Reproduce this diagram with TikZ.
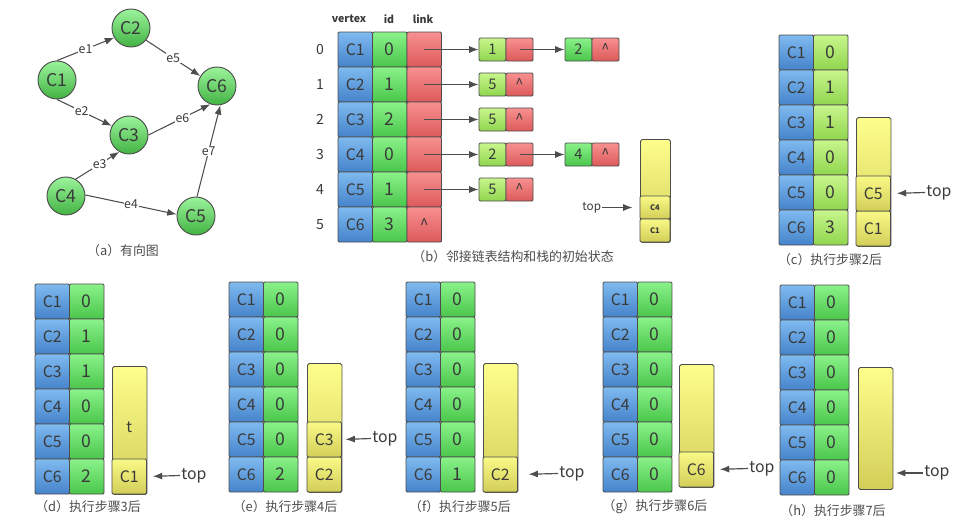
\documentclass[tikz,border=0pt]{standalone}
\usepackage{fontspec}
\setmainfont{Noto Sans CJK SC}
\usetikzlibrary{arrows.meta,positioning}
\definecolor{vblue1}{HTML}{7FBAEF}
\definecolor{vblue2}{HTML}{4583CB}
\definecolor{vgreen1}{HTML}{8AF28A}
\definecolor{vgreen2}{HTML}{4AC64A}
\definecolor{vlime1}{HTML}{C8F68C}
\definecolor{vlime2}{HTML}{90D54E}
\definecolor{vred1}{HTML}{F89090}
\definecolor{vred2}{HTML}{DD5A5A}
\definecolor{vyel1}{HTML}{FEFE8C}
\definecolor{vyel2}{HTML}{D2CE58}
\definecolor{edge}{HTML}{4D4D4D}
\definecolor{txt}{HTML}{3A3A3A}
\newcommand{\pxu}{0.03cm}
% one state table: name, left x, top y, style of id column, ids
\newcommand{\statetab}[5]{%
  \foreach \v [count=\i] in {#5}{%
    \node[vcell] (#1v\i) at ({#2+17.25},{#3+35*\i-17.5}) {C\i};
    \node[#4,font=\fontsize{15}{16}\selectfont] (#1d\i) at ({#2+51.75},{#3+35*\i-17.5}) {\v};
  }}

\begin{document}
\begin{tikzpicture}[x=\pxu,y=-\pxu,>={Latex[length=8pt,width=6pt]},
  every node/.style={text=txt},
  cell/.style={draw=edge,line width=0.8pt,rounded corners=1pt,inner sep=0pt,
    minimum width=34.5*\pxu,minimum height=35*\pxu,font=\fontsize{13.5}{14}\selectfont},
  vcell/.style={cell,top color=vblue1,bottom color=vblue2},
  gcell/.style={cell,top color=vgreen1,bottom color=vgreen2},
  lcell/.style={cell,top color=vlime1,bottom color=vlime2},
  rcell/.style={cell,top color=vred1,bottom color=vred2},
  ncell/.style={cell,minimum width=27*\pxu,minimum height=23*\pxu,font=\fontsize{12.5}{13}\selectfont},
  stk/.style={draw=edge,line width=0.8pt,rounded corners=1.5pt,anchor=north west,
    minimum width=34.5*\pxu,top color=vyel1,bottom color=vyel2},
  scell/.style={cell,top color=vyel1!90!vyel2,bottom color=vyel2},
  vtx/.style={circle,draw=edge,line width=0.8pt,minimum size=38*\pxu,inner sep=0pt,
    top color=vgreen1!85!white,bottom color=vgreen2!90!black,font=\fontsize{15}{16}\selectfont},
  elab/.style={fill=white,inner sep=0.6pt,font=\fontsize{10.5}{11}\selectfont},
  garc/.style={->,draw=edge,line width=0.9pt},
  lnk/.style={->,draw=edge,line width=0.9pt},
  tarr/.style={->,draw=edge,line width=1pt,shorten >=5pt},
  toplab/.style={anchor=west,inner sep=1pt,font=\fontsize{13.5}{14}\selectfont},
  hdr/.style={font=\bfseries\fontsize{9}{10}\selectfont},
  idx/.style={font=\fontsize{12}{13}\selectfont},
  capt/.style={font=\fontsize{11}{12}\selectfont,text=black!70}]
\useasboundingbox (0,0) rectangle (963,525);

% (a) the directed graph
\node[vtx] (C1) at (57,80) {C1};
\node[vtx] (C2) at (131,28) {C2};
\node[vtx] (C3) at (129,135) {C3};
\node[vtx] (C4) at (66,196) {C4};
\node[vtx] (C5) at (196,216) {C5};
\node[vtx] (C6) at (217,86) {C6};
\draw[garc] (C1.90) -- node[elab] {e1} (C2.210);
\draw[garc] (C1.270) -- node[elab,pos=0.45] {e2} (C3.152);
\draw[garc] (C4.60) -- node[elab,pos=0.55] {e3} (C3.240);
\draw[garc] (C4.3) -- node[elab] {e4} (C5.175);
\draw[garc] (C2.321) -- node[elab] {e5} (C6.149);
\draw[garc] (C3.0) -- node[elab,pos=0.55] {e6} (C6.250);
\draw[garc] (C5.87) -- node[elab] {e7} (C6.280);
\node[capt] (capa) at (123,251) {（a）有向图};

% (b) adjacency lists and the stack
\node[hdr] (hv) at (349,19) {vertex};
\node[hdr] (hi) at (389,19) {id};
\node[hdr] (hl) at (423,19) {link};
\foreach \c/\d/\l [count=\i from 0] in {C1/0/{},C2/1/{},C3/2/{},C4/0/{},C5/1/{},C6/3/\textasciicircum}{
  \node[idx] (bi\i) at (320,{49.5+35*\i}) {\i};
  \node[vcell] (bv\i) at (355.25,{49.5+35*\i}) {\c};
  \node[gcell,font=\fontsize{15}{16}\selectfont] (bd\i) at (389.75,{49.5+35*\i}) {\d};
  \node[rcell] (bl\i) at (424.25,{49.5+35*\i}) {\l};
}
\foreach \r/\v/\y in {0/1/49.5,1/5/84.5,2/5/119.5,3/2/154.5,4/5/189.5}{
  \node[ncell,top color=vlime1,bottom color=vlime2] (n\r a) at (492.5,\y) {\v};
  \draw[lnk] (bl\r.center) -- (n\r a.west);
}
\foreach \r in {1,2,4}{
  \node[ncell,top color=vred1,bottom color=vred2] (n\r b) at (519.5,{49.5+35*\r}) {\textasciicircum};
}
\foreach \r/\v/\y in {0/2/49.5,3/4/154.5}{
  \node[ncell,top color=vred1,bottom color=vred2] (n\r b) at (519.5,\y) {};
  \node[ncell,top color=vgreen1,bottom color=vgreen2] (n\r c) at (578.5,\y) {\v};
  \node[ncell,top color=vred1,bottom color=vred2] (n\r d) at (605.5,\y) {\textasciicircum};
  \draw[lnk] (n\r b.center) -- (n\r c.west);
}
\node[stk,minimum width=30*\pxu,minimum height=103*\pxu] (bstk) at (640,139) {};
\node[scell,minimum width=30*\pxu,minimum height=23*\pxu,font=\bfseries\fontsize{6.5}{7}\selectfont] (bs2) at (655,207.5) {C4};
\node[scell,minimum width=30*\pxu,minimum height=23*\pxu,font=\bfseries\fontsize{6.5}{7}\selectfont] (bs1) at (655,230.5) {C1};
\node[toplab,font=\fontsize{10}{11}\selectfont] (btop) at (581,207.5) {top};
\draw[lnk,shorten >=6pt] (btop.east) -- (bs2.west);
\node[capt] (capb) at (513,257) {（b）邻接链表结构和栈的初始状态};

% (c) after step 2
\statetab{c}{779}{35}{lcell}{0,1,1,0,0,3}
\node[stk,minimum height=129*\pxu] (cstk) at (856,117) {};
\node[scell] (cs1) at (873.25,228.5) {C1};
\node[scell] (cs2) at (873.25,193.5) {C5};
\node[toplab] (ctop) at (925,192.5) {top};
\draw[tarr] (ctop.west) -- (cs2.east);
\node[capt] (capc) at (830,260) {（c）执行步骤2后};

% (d) after step 3
\statetab{d}{35}{284}{gcell}{0,1,1,0,0,2}
\node[stk,minimum height=128*\pxu] (dstk) at (112,366) {};
\node[scell] (ds1) at (129.25,476.5) {C1};
\node[font=\fontsize{13}{14}\selectfont] (dt) at (129.25,427) {t};
\node[toplab] (dtop) at (180,475.5) {top};
\draw[tarr] (dtop.west) -- (ds1.east);
\node[capt] (capd) at (88,507) {（d）执行步骤3后};

% (e) after step 4
\statetab{e}{229}{282}{gcell}{0,0,0,0,0,2}
\node[stk,minimum height=129*\pxu] (estk) at (307,363) {};
\node[scell] (es1) at (324.25,474.5) {C2};
\node[scell] (es2) at (324.25,439.5) {C3};
\node[toplab] (etop) at (371,438.5) {top};
\draw[tarr,shorten >=3pt] (etop.west) -- (es2.east);
\node[capt] (cape) at (285,507) {（e）执行步骤4后};

% (f) after step 5
\statetab{f}{406}{282}{gcell}{0,0,0,0,0,1}
\node[stk,minimum height=129*\pxu] (fstk) at (483,363) {};
\node[scell] (fs1) at (500.25,474.5) {C2};
\node[toplab] (ftop) at (558,473.5) {top};
\draw[tarr,shorten >=9pt] (ftop.west) -- (fs1.east);
\node[capt] (capf) at (460,507) {（f）执行步骤5后};

% (g) after step 6
\statetab{g}{603}{282}{gcell}{0,0,0,0,0,0}
\node[stk,minimum height=123*\pxu] (gstk) at (679,364) {};
\node[scell] (gs1) at (696.25,469.5) {C6};
\node[toplab] (gtop) at (748,468.5) {top};
\draw[tarr] (gtop.west) -- (gs1.east);
\node[capt] (capg) at (655,507) {（g）执行步骤6后};

% (h) after step 7, stack empty
\statetab{h}{780}{285}{gcell}{0,0,0,0,0,0}
\node[stk,minimum height=122*\pxu] (hstk) at (858,367) {};
\coordinate (hpt) at (892.5,473);
\node[toplab] (htop) at (923,473) {top};
\draw[tarr,shorten >=3pt] (htop.west) -- (hpt);
\node[capt] (caph) at (833,511) {（h）执行步骤7后};
\end{tikzpicture}
\end{document}
